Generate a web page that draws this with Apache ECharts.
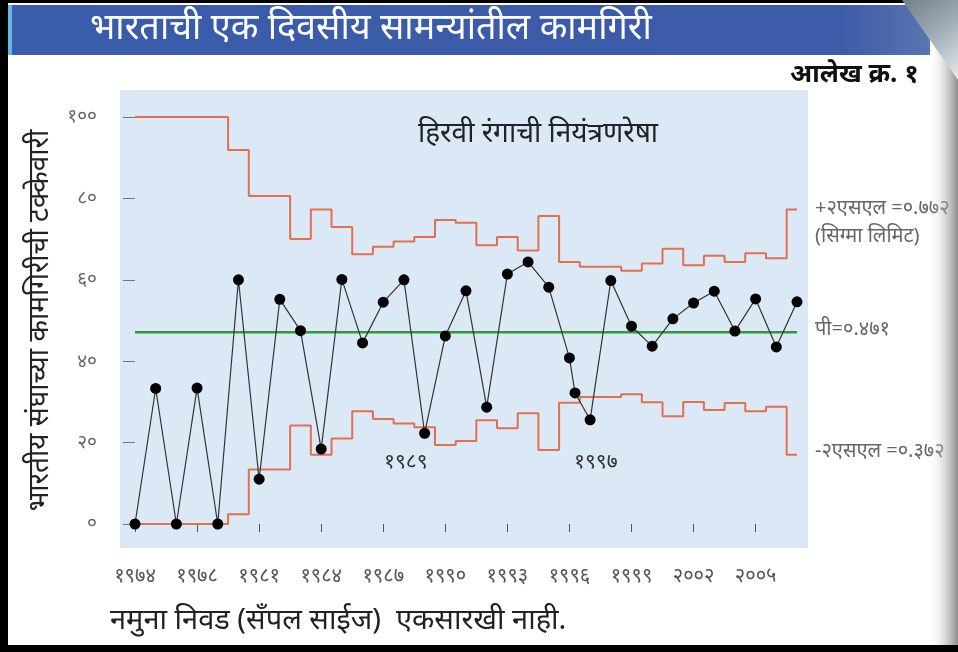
<!DOCTYPE html>
<html>
<head>
<meta charset="utf-8">
<script src="https://cdn.jsdelivr.net/npm/echarts@6/dist/echarts.min.js"></script>
<style>
html,body{margin:0;padding:0;background:#000;}
#c{width:958px;height:652px;}
</style>
</head>
<body>
<div id="c"></div>
<script>
// ---- data ----
const xTickLabels = ['१९७४','१९७८','१९८१','१९८४','१९८७','१९९०','१९९३','१९९६','१९९९','२००२','२००५'];
const yTickLabels = ['०','२०','४०','६०','८०','१००'];
// sample positions (index along the x axis) and their percentages
const pointX = [0,1,2,3,4,5,6,7,8,9,10,11,12,13,14,15,16,17,18,19,20,21,21.27,22,23,24,25,26,27,28,29,30,31,32];
const pointY = [0,33.3,0,33.4,0,60,11,55.2,47.5,18.4,60.1,44.5,54.5,60,22.3,46.2,57.3,28.7,61.4,64.4,58.2,40.8,32.2,25.6,59.8,48.6,43.7,50.4,54.3,57.2,47.4,55.3,43.5,54.6];
// control limits per sample index 0..32
const upperLimit = [100,100,100,100,100,91.9,80.6,80.6,70,77.3,73,66.3,68.1,69.4,70.5,74.7,74,68.5,70.5,67.2,75.7,64.4,63.2,63.2,62.2,64,67.6,63.6,65.9,64.4,66.5,65.3,77.3];
const lowerLimit = [0,0,0,0,0,2.4,13.4,13.4,24.2,17,21,27.7,25.8,24.7,23.8,19.4,20.4,25.5,23.5,27.2,18.2,29.8,31.2,31.2,31.9,29.9,26.5,30,28,29.7,27.7,28.8,17];
const centerP = 47.1;
const centerSpan = [0, 32];

const tickIdx = xTickLabels.map((_, i) => i * 3);

const chart = echarts.init(document.getElementById('c'), null, {renderer: 'canvas'});
const DEV = "'Noto Sans', 'DejaVu Sans', sans-serif";
const option = {
  animation: false,
  backgroundColor: '#000',
  textStyle: {fontFamily: DEV},
  title: {
    text: 'भारताची एक दिवसीय सामन्यांतील कामगिरी',
    left: 85, top: 6,
    textStyle: {color: '#fff', fontSize: 36, fontWeight: 'normal', fontFamily: DEV}
  },
  grid: {left: 135, right: 161, top: 117, bottom: 128, containLabel: false},
  xAxis: {
    type: 'value', min: 0, max: 32, offset: 24,
    axisLine: {show: false},
    axisTick: {show: true, length: 8, customValues: tickIdx, lineStyle: {color: '#555', width: 1}},
    axisLabel: {customValues: tickIdx, formatter: v => xTickLabels[Math.round(v / 3)] || '', margin: 18, color: '#555', fontSize: 20},
    splitLine: {show: false}
  },
  yAxis: {
    type: 'value', min: 0, max: 100, interval: 20, offset: 20,
    axisLine: {show: false},
    axisTick: {show: true, length: 12, lineStyle: {color: '#777', width: 1}},
    axisLabel: {formatter: v => yTickLabels[Math.round(v / 20)] || '', margin: 18, color: '#666', fontSize: 19},
    splitLine: {show: false},
    name: 'भारतीय संघाच्या कामगिरीची टक्केवारी',
    nameLocation: 'middle', nameRotate: 90, nameGap: 61,
    nameTextStyle: {color: '#222', fontSize: 28}
  },
  graphic: [
    {type: 'rect', z: -20, shape: {x: 8, y: 3, width: 950, height: 642}, style: {fill: '#fff'}},
    {type: 'rect', z: -19, shape: {x: 8, y: 5, width: 922, height: 50},
      style: {fill: new echarts.graphic.LinearGradient(0,0,1,0,[{offset:0,color:'#3a5caa'},{offset:0.9,color:'#3c5ba8'},{offset:1,color:'#5a74b0'}])}},
    {type: 'rect', z: -18, shape: {x: 8, y: 5, width: 4, height: 50}, style: {fill: '#5fb8e8'}},
    {type: 'rect', z: -18, shape: {x: 120, y: 90, width: 688, height: 458}, style: {fill: '#dbe9f7'}},
    {type: 'rect', z: 20, shape: {x: 928, y: 3, width: 30, height: 642},
      style: {fill: new echarts.graphic.LinearGradient(0,0,1,0,[{offset:0,color:'rgba(255,255,255,0)'},{offset:0.6,color:'rgba(170,170,170,0.5)'},{offset:1,color:'rgba(110,110,110,0.8)'}])}},
    {type: 'polygon', z: 21, shape: {points: [[902,0],[958,0],[958,80]]},
      style: {fill: new echarts.graphic.LinearGradient(0,0,1,1,[{offset:0,color:'#6f808c'},{offset:0.5,color:'#a3afb8'},{offset:1,color:'#e8ebed'}])}},
    {type: 'text', z: 10, left: 790, top: 62, style: {text: 'आलेख क्र. १', fill: '#111', font: "bold 26px " + DEV}},
    {type: 'text', z: 10, left: 418, top: 120, style: {text: 'हिरवी रंगाची नियंत्रणरेषा', fill: '#222', font: "28px " + DEV}},
    {type: 'text', z: 10, left: 384, top: 452, style: {text: '१९८९', fill: '#333', font: "21px " + DEV}},
    {type: 'text', z: 10, left: 574, top: 452, style: {text: '१९९७', fill: '#333', font: "21px " + DEV}},
    {type: 'text', z: 10, left: 815, top: 198, style: {text: '+२एसएल =०.७७२', fill: '#666', font: "20px " + DEV}},
    {type: 'text', z: 10, left: 815, top: 226, style: {text: '(सिग्मा लिमिट)', fill: '#666', font: "20px " + DEV}},
    {type: 'text', z: 10, left: 815, top: 319, style: {text: 'पी=०.४७१', fill: '#666', font: "20px " + DEV}},
    {type: 'text', z: 10, left: 815, top: 441, style: {text: '-२एसएल =०.३७२', fill: '#666', font: "20px " + DEV}},
    {type: 'text', z: 10, left: 110, top: 606, style: {text: 'नमुना निवड (सॅंपल साईज)  एकसारखी नाही.', fill: '#222', font: "29px " + DEV}}
  ],
  series: [
    {type: 'line', name: 'upper', step: 'middle', showSymbol: false, symbol: 'none',
      data: upperLimit.map((v, i) => [i, v]), lineStyle: {color: '#e2704e', width: 2}, z: 3},
    {type: 'line', name: 'lower', step: 'middle', showSymbol: false, symbol: 'none',
      data: lowerLimit.map((v, i) => [i, v]), lineStyle: {color: '#e2704e', width: 2}, z: 3},
    {type: 'line', name: 'center', symbol: 'none',
      data: centerSpan.map(x => [x, centerP]), lineStyle: {color: '#2f9a3c', width: 2.5}, z: 4},
    {type: 'line', name: 'samples', symbol: 'circle', symbolSize: 11,
      data: pointX.map((x, i) => [x, pointY[i]]),
      itemStyle: {color: '#000'}, lineStyle: {color: '#333', width: 1.2}, z: 5}
  ]
};
chart.setOption(option);
</script>
</body>
</html>
